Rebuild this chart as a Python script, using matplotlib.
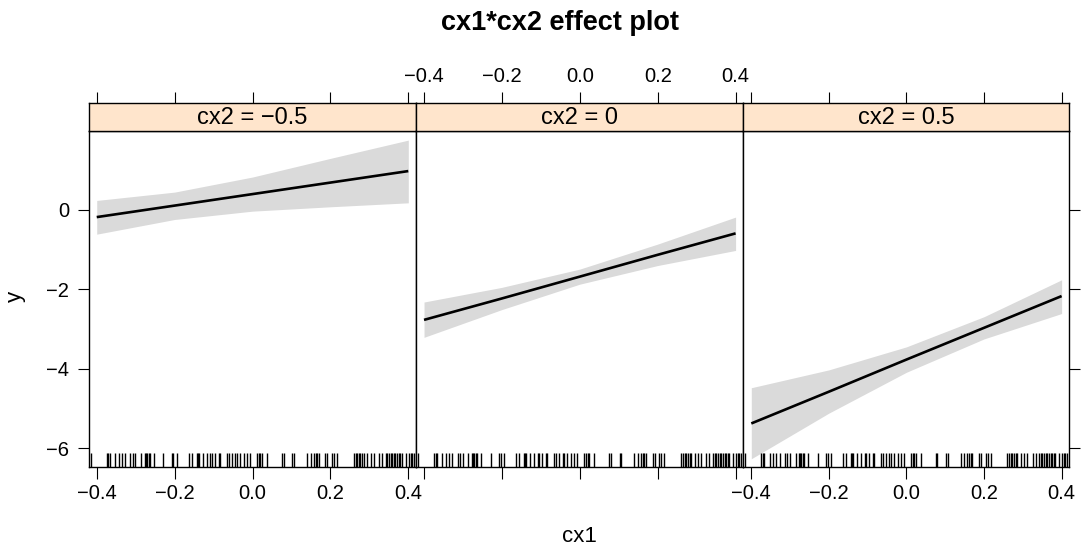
import matplotlib
matplotlib.use("Agg")
import matplotlib.pyplot as plt
from matplotlib import ticker

plt.rcParams['font.family'] = ['Liberation Sans', 'DejaVu Sans']

# значения cx1, в которых посчитан эффект
cx1_grid = [-0.4, -0.2, 0.0, 0.2, 0.4]
# уровни cx2 (по панелям)
cx2_levels = ["\u22120.5", "0", "0.5"]
# подогнанные значения и доверительные границы для каждой панели
fit = [
    [-0.18, 0.11, 0.40, 0.69, 0.98],
    [-2.77, -2.23, -1.68, -1.13, -0.59],
    [-5.38, -4.58, -3.77, -2.97, -2.17],
]
lower = [
    [-0.61, -0.24, -0.03, 0.08, 0.18],
    [-3.21, -2.51, -1.87, -1.40, -1.02],
    [-6.27, -5.12, -4.09, -3.25, -2.61],
]
upper = [
    [0.24, 0.45, 0.83, 1.30, 1.76],
    [-2.32, -1.95, -1.49, -0.86, -0.18],
    [-4.48, -4.03, -3.45, -2.69, -1.76],
]
# наблюдаемые значения cx1 (rug)
rug_cx1 = [
    -0.415, -0.374, -0.370, -0.366, -0.353, -0.344, -0.336, -0.327, -0.314, -0.307,
    -0.301, -0.286, -0.277, -0.274, -0.271, -0.267, -0.263, -0.253, -0.229, -0.207,
    -0.203, -0.194, -0.164, -0.156, -0.143, -0.140, -0.137, -0.127, -0.117, -0.108,
    -0.104, -0.097, -0.087, -0.083, -0.066, -0.061, -0.053, -0.044, -0.040, -0.033,
    -0.023, -0.014, -0.006, 0.012, 0.016, 0.020, 0.024, 0.037, 0.076, 0.080,
    0.102, 0.106, 0.140, 0.149, 0.157, 0.162, 0.166, 0.170, 0.187, 0.192,
    0.204, 0.209, 0.217, 0.260, 0.265, 0.269, 0.273, 0.277, 0.282, 0.286,
    0.295, 0.303, 0.312, 0.325, 0.333, 0.342, 0.346, 0.350, 0.355, 0.359,
    0.363, 0.367, 0.372, 0.376, 0.380, 0.384, 0.393, 0.402, 0.406, 0.410, 0.415,
]
x_ticks = [-0.4, -0.2, 0.0, 0.2, 0.4]
y_ticks = [-6, -4, -2, 0]

W, H = 1081, 550


def box(x0, y0, x1, y1):
    # пиксели (сверху вниз) -> доли фигуры
    return [x0 / W, 1 - y1 / H, (x1 - x0) / W, (y1 - y0) / H]


def fmt(v, pos=None):
    return ("%.1f" % v).replace("-", "\u2212")


def fmt_int(v, pos=None):
    return ("%d" % v).replace("-", "\u2212")


fig = plt.figure(figsize=(10.81, 5.5), dpi=100)
panel_x = [88.7, 416.0, 743.3, 1069.3]

for i in range(3):
    ax = fig.add_axes(box(panel_x[i], 131, panel_x[i + 1], 466.7))
    st = fig.add_axes(box(panel_x[i], 102.7, panel_x[i + 1], 131))

    ax.fill_between(cx1_grid, lower[i], upper[i], color="#dadada", lw=0)
    ax.plot(cx1_grid, fit[i], color="black", lw=1.9, solid_capstyle="butt")
    ax.vlines(rug_cx1, 0, 0.042, transform=ax.get_xaxis_transform(), color="black", lw=1.0)

    for a in (ax, st):
        a.set_xlim(-0.4206, 0.4198)
        a.set_xticks(x_ticks)
        a.xaxis.set_major_formatter(ticker.FuncFormatter(fmt))
        for s in a.spines.values():
            s.set_linewidth(1.0)
    ax.set_ylim(-6.47, 1.99)
    ax.set_yticks(y_ticks)
    ax.yaxis.set_major_formatter(ticker.FuncFormatter(fmt_int))

    ax.tick_params(axis="x", bottom=True, top=False, labelbottom=(i != 1),
                   direction="out", length=8.3, width=0.8, labelsize=14.5, pad=4)
    ax.tick_params(axis="y", left=(i == 0), right=(i == 2), labelleft=(i == 0),
                   labelright=False, direction="out", length=8.0, width=0.8,
                   labelsize=14.5, pad=6)

    st.set_facecolor("#ffe5cc")
    st.set_yticks([])
    st.tick_params(axis="x", bottom=False, top=True, labelbottom=False,
                   labeltop=(i == 1), direction="out", length=8.0, width=0.8,
                   labelsize=14.5, pad=4)
    st.text(0.5, 0.45, "cx2 = " + cx2_levels[i], transform=st.transAxes,
            ha="center", va="center", fontsize=17)

fig.text(560 / W, 1 - 23 / H, "cx1*cx2 effect plot", ha="center", va="center",
         fontsize=19.5, fontweight="bold")
fig.text(579 / W, 1 - 537 / H, "cx1", ha="center", va="center", fontsize=16)
fig.text(15 / W, 1 - 296 / H, "y", ha="center", va="center", fontsize=16, rotation=90)

fig.savefig("out.png", dpi=100)
